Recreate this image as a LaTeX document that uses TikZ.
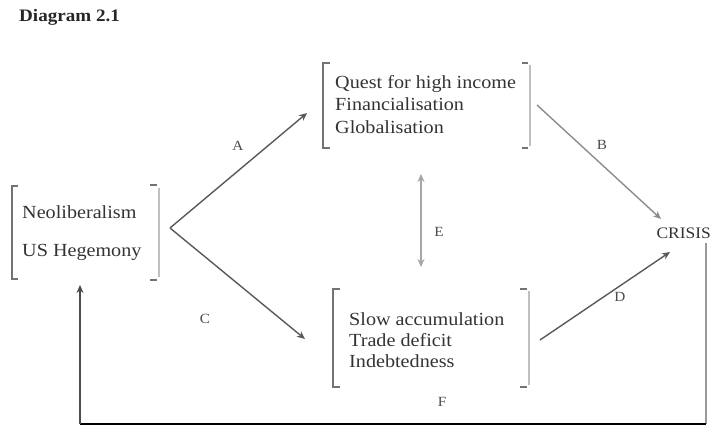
\documentclass[tikz,border=0pt]{standalone}
\usepackage{fontspec}
\setmainfont[FakeStretch=1.09]{Liberation Serif}
\usetikzlibrary{arrows.meta}
\begin{document}
\begin{tikzpicture}[x=1pt,y=-1pt,
  boxtext/.style={anchor=west,inner sep=0pt,font=\fontsize{18.5}{20}\selectfont,text=black!80},
  lbl/.style={inner sep=0pt,font=\fontsize{14}{16}\selectfont,text=black!70},
  conn/.style={draw=black!65,line width=1.4pt,-{Stealth[length=8pt,width=7pt]}},
  lbrack/.style={draw=black!55,line width=1.5pt},
  rbrack/.style={draw=black!25,line width=2.6pt}]
\useasboundingbox (0,0) rectangle (713,427);
% title
\node[anchor=west,inner sep=0pt,font=\fontsize{17.5}{19}\selectfont\bfseries,text=black!85] (title) at (19,17) {Diagram 2.1};
% left box
\draw[lbrack] (18,186) -- (12,186) -- (12,279) -- (18,279);
\draw[rbrack] (159,188) -- (159,277);
\draw[lbrack] (150,185) -- (157,185) (150,280) -- (157,280);
\node[boxtext] (neo) at (22,212) {Neoliberalism};
\node[boxtext] (us) at (22,252) {US Hegemony};
% top box
\draw[lbrack] (330,63) -- (323,63) -- (323,148) -- (330,148);
\draw[rbrack] (530,65) -- (530,146);
\draw[lbrack] (522,63) -- (528,63) (522,148) -- (528,148);
\node[boxtext] (q1) at (335,84) {Quest for high income};
\node[boxtext] (q2) at (335,104) {Financialisation};
\node[boxtext] (q3) at (335,127) {Globalisation};
% bottom box
\draw[lbrack] (340,289) -- (333,289) -- (333,387) -- (340,387);
\draw[rbrack] (529,291) -- (529,385);
\draw[lbrack] (520,289) -- (527,289) (520,387) -- (527,387);
\node[boxtext] (s1) at (349,319) {Slow accumulation};
\node[boxtext] (s2) at (349,340) {Trade deficit};
\node[boxtext] (s3) at (349,361) {Indebtedness};
% crisis
\node[boxtext,anchor=east,font=\fontsize{16}{18}\selectfont] (crisis) at (711,233) {CRISIS};
% coordinates
\coordinate (lout) at (170,228);
\coordinate (tin) at (307,113);
\coordinate (bin) at (305,339);
\coordinate (tout) at (537,105);
\coordinate (bout) at (540,340);
\coordinate (cb) at (661,219);
\coordinate (cd) at (670,252);
\coordinate (etop) at (421,174);
\coordinate (ebot) at (421,267);
\coordinate (f1) at (706,243);
\coordinate (f2) at (706,424);
\coordinate (f3) at (80,424);
\coordinate (f4) at (80,285);
% connectors
\draw[conn] (lout) -- (tin);
\draw[conn] (lout) -- (bin);
\draw[conn,draw=black!45] (tout) -- (cb);
\draw[conn] (bout) -- (cd);
\draw[conn,draw=black!35,{Stealth[length=8pt,width=7pt]}-{Stealth[length=8pt,width=7pt]}] (etop) -- (ebot);
\draw[draw=black!40,line width=2pt] (f1) -- (f2);
\draw[draw=black,line width=2.6pt] (f2) -- (f3);
\draw[conn,draw=black!70] (f3) -- (f4);
% labels
\node[lbl] (la) at (238,146) {A};
\node[lbl] (lb) at (602,145) {B};
\node[lbl] (lc) at (205,319) {C};
\node[lbl] (ld) at (620,297) {D};
\node[lbl] (le) at (439,232) {E};
\node[lbl] (lf) at (442,402) {F};
\end{tikzpicture}
\end{document}
